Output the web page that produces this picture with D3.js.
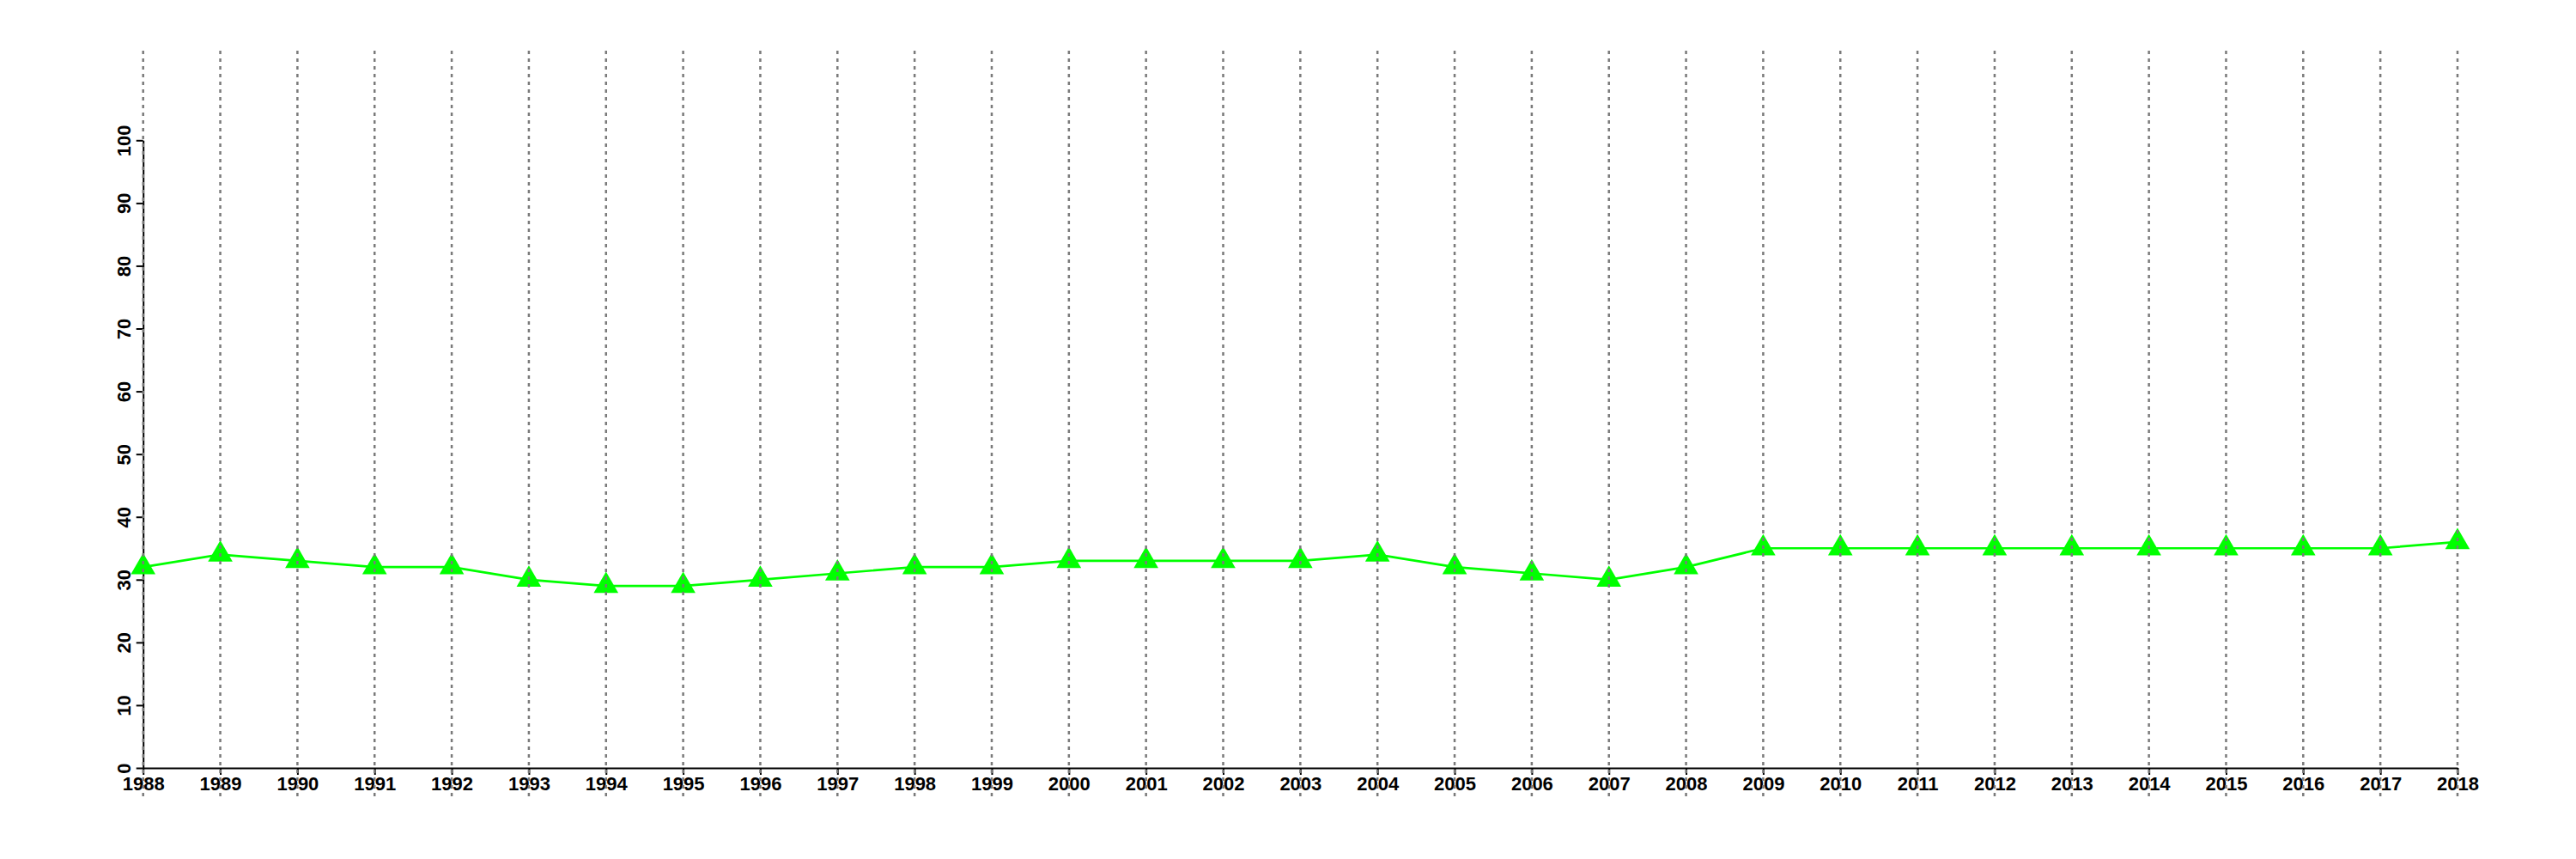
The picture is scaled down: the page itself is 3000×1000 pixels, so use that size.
<!DOCTYPE html>
<html>
<head>
<meta charset="utf-8">
<script src="https://cdn.jsdelivr.net/npm/d3@7"></script>
<style>
  html, body { margin: 0; padding: 0; background: #ffffff; }
  svg { display: block; }
  text { font-family: "Liberation Sans", Arial, Helvetica, sans-serif; font-weight: bold; }
</style>
</head>
<body>
<svg id="chart" width="3000" height="1000"></svg>
<script>
const years = [1988, 1989, 1990, 1991, 1992, 1993, 1994, 1995, 1996, 1997,
               1998, 1999, 2000, 2001, 2002, 2003, 2004, 2005, 2006, 2007,
               2008, 2009, 2010, 2011, 2012, 2013, 2014, 2015, 2016, 2017, 2018];
const values = [32, 34, 33, 32, 32, 30, 29, 29, 30, 31,
                32, 32, 33, 33, 33, 33, 34, 32, 31, 30,
                32, 35, 35, 35, 35, 35, 35, 35, 35, 35, 36];
const yTicks = [0, 10, 20, 30, 40, 50, 60, 70, 80, 90, 100];

const svg = d3.select("#chart");
const x = d3.scaleLinear().domain([1988, 2018]).range([166.7, 2862]);
const y = d3.scaleLinear().domain([0, 100]).range([894, 163.3]);

// X axis
const xAxis = svg.append("g").attr("transform", `translate(0,${y(0)})`)
  .call(d3.axisBottom(x).tickValues(years).tickFormat(d3.format("d")).tickSize(8).tickSizeOuter(0).tickPadding(4));
xAxis.select(".domain").attr("stroke", "#000").attr("stroke-width", 2);
xAxis.selectAll(".tick line").attr("stroke", "#000").attr("stroke-width", 2);
xAxis.selectAll(".tick text").attr("font-size", 22).attr("fill", "#000")
  .attr("font-family", "'Liberation Sans', Arial, sans-serif").attr("font-weight", "bold")
  .attr("dy", null).attr("y", 26);

// Y axis
const yAxis = svg.append("g").attr("transform", `translate(${x(1988)},0)`)
  .call(d3.axisLeft(y).tickValues(yTicks).tickSize(8).tickSizeOuter(0));
yAxis.select(".domain").attr("stroke", "#000").attr("stroke-width", 2);
yAxis.selectAll(".tick line").attr("stroke", "#000").attr("stroke-width", 2);
yAxis.selectAll(".tick text").attr("font-size", 22).attr("fill", "#000")
  .attr("font-family", "'Liberation Sans', Arial, sans-serif").attr("font-weight", "bold")
  .attr("x", null).attr("dy", null)
  .attr("text-anchor", "middle")
  .attr("transform", "translate(-15,0) rotate(-90)");

// Line
const line = d3.line().x((d, i) => x(years[i])).y(d => y(d));
svg.append("path").datum(values)
  .attr("d", line).attr("fill", "none").attr("stroke", "#00ff00").attr("stroke-width", 2.7);

// Triangles
const sym = d3.symbol().type(d3.symbolTriangle).size(355);
svg.append("g").selectAll("path").data(values).join("path")
  .attr("d", sym)
  .attr("transform", (d, i) => `translate(${x(years[i])},${y(d)})`)
  .attr("fill", "#00ff00");

// Vertical dotted gridlines (drawn on top)
svg.append("g").selectAll("line").data(years).join("line")
  .attr("x1", d => x(d)).attr("x2", d => x(d))
  .attr("y1", 59).attr("y2", 927)
  .attr("stroke", "#7a7a7a").attr("stroke-width", 2.5)
  .attr("stroke-dasharray", "4,5");
</script>
</body>
</html>
